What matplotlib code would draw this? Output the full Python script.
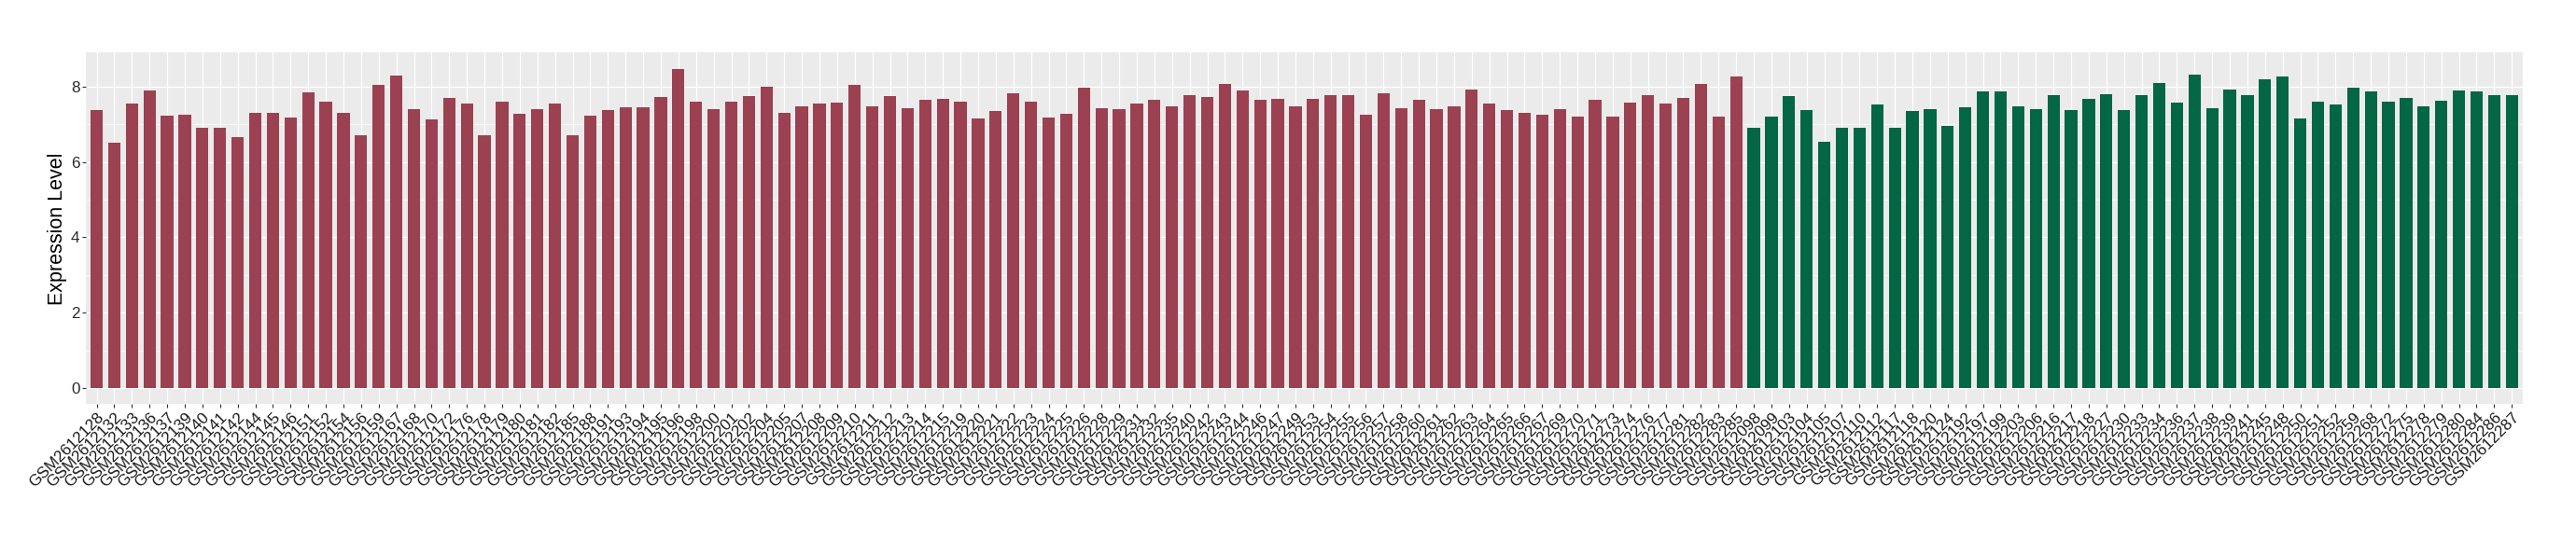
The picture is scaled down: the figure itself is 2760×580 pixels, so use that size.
import matplotlib.pyplot as plt
import numpy as np

# samples of the first group (red) and their expression values
group1_samples = [
    "GSM2612128", "GSM2612132", "GSM2612133", "GSM2612136", "GSM2612137", "GSM2612139",
    "GSM2612140", "GSM2612141", "GSM2612142", "GSM2612144", "GSM2612145", "GSM2612146",
    "GSM2612151", "GSM2612152", "GSM2612154", "GSM2612156", "GSM2612159", "GSM2612167",
    "GSM2612168", "GSM2612170", "GSM2612172", "GSM2612176", "GSM2612178", "GSM2612179",
    "GSM2612180", "GSM2612181", "GSM2612182", "GSM2612185", "GSM2612188", "GSM2612191",
    "GSM2612193", "GSM2612194", "GSM2612195", "GSM2612196", "GSM2612198", "GSM2612200",
    "GSM2612201", "GSM2612202", "GSM2612204", "GSM2612205", "GSM2612207", "GSM2612208",
    "GSM2612209", "GSM2612210", "GSM2612211", "GSM2612212", "GSM2612213", "GSM2612214",
    "GSM2612215", "GSM2612219", "GSM2612220", "GSM2612221", "GSM2612222", "GSM2612223",
    "GSM2612224", "GSM2612225", "GSM2612226", "GSM2612228", "GSM2612229", "GSM2612231",
    "GSM2612232", "GSM2612235", "GSM2612240", "GSM2612242", "GSM2612243", "GSM2612244",
    "GSM2612246", "GSM2612247", "GSM2612249", "GSM2612253", "GSM2612254", "GSM2612255",
    "GSM2612256", "GSM2612257", "GSM2612258", "GSM2612260", "GSM2612261", "GSM2612262",
    "GSM2612263", "GSM2612264", "GSM2612265", "GSM2612266", "GSM2612267", "GSM2612269",
    "GSM2612270", "GSM2612271", "GSM2612273", "GSM2612274", "GSM2612276", "GSM2612277",
    "GSM2612281", "GSM2612282", "GSM2612283", "GSM2612285",
]
group1_values = [
    7.38, 6.52, 7.55, 7.91, 7.23, 7.25, 6.90, 6.92, 6.65, 7.30, 7.30, 7.18,
    7.86, 7.61, 7.30, 6.70, 8.06, 8.29, 7.40, 7.13, 7.71, 7.55, 6.72, 7.61,
    7.28, 7.40, 7.55, 6.72, 7.23, 7.38, 7.45, 7.45, 7.73, 8.48, 7.61, 7.40,
    7.61, 7.76, 8.01, 7.30, 7.48, 7.55, 7.58, 8.06, 7.48, 7.76, 7.43, 7.66,
    7.68, 7.61, 7.15, 7.35, 7.83, 7.61, 7.18, 7.28, 7.98, 7.43, 7.40, 7.55,
    7.66, 7.48, 7.78, 7.73, 8.08, 7.91, 7.66, 7.68, 7.48, 7.68, 7.78, 7.78,
    7.25, 7.83, 7.43, 7.66, 7.40, 7.48, 7.93, 7.55, 7.38, 7.30, 7.25, 7.40,
    7.20, 7.66, 7.20, 7.58, 7.78, 7.55, 7.71, 8.08, 7.20, 8.26,
]

# samples of the second group (green)
group2_samples = [
    "GSM2612098", "GSM2612099", "GSM2612103", "GSM2612104", "GSM2612105", "GSM2612107",
    "GSM2612110", "GSM2612112", "GSM2612117", "GSM2612118", "GSM2612120", "GSM2612124",
    "GSM2612192", "GSM2612197", "GSM2612199", "GSM2612203", "GSM2612206", "GSM2612216",
    "GSM2612217", "GSM2612218", "GSM2612227", "GSM2612230", "GSM2612233", "GSM2612234",
    "GSM2612236", "GSM2612237", "GSM2612238", "GSM2612239", "GSM2612241", "GSM2612245",
    "GSM2612248", "GSM2612250", "GSM2612251", "GSM2612252", "GSM2612259", "GSM2612268",
    "GSM2612272", "GSM2612275", "GSM2612278", "GSM2612279", "GSM2612280", "GSM2612284",
    "GSM2612286", "GSM2612287",
]
group2_values = [
    6.92, 7.20, 7.76, 7.38, 6.55, 6.90, 6.92, 7.53, 6.92, 7.35, 7.40, 6.97,
    7.45, 7.88, 7.88, 7.48, 7.41, 7.78, 7.37, 7.68, 7.80, 7.37, 7.78, 8.11,
    7.57, 8.32, 7.42, 7.93, 7.78, 8.21, 8.26, 7.16, 7.60, 7.52, 7.98, 7.88,
    7.60, 7.70, 7.47, 7.62, 7.91, 7.88, 7.78, 7.78,
]

group_colors = ["#9B4151", "#036644"]

plt.rcParams['font.family'] = ['Liberation Sans', 'DejaVu Sans']

labels = group1_samples + group2_samples
values = group1_values + group2_values
colors = [group_colors[0]] * len(group1_values) + [group_colors[1]] * len(group2_values)
x = np.arange(len(values))

fig = plt.figure(figsize=(27.6, 5.8), dpi=100)
ax = fig.add_axes([0.0334, 0.2534, 0.9458, 0.6492])
ax.set_facecolor('#EBEBEB')
ax.set_axisbelow(True)

ax.bar(x, values, width=0.7, color=colors, zorder=2)

# ggplot-like expansion
ymax = max(values)
ax.set_ylim(-0.05 * ymax, 1.05 * ymax)
ax.set_xlim(-0.6, len(values) - 0.4)

ax.set_yticks([0, 2, 4, 6, 8])
ax.set_yticks([1, 3, 5, 7], minor=True)
ax.grid(which='major', color='white', linewidth=0.9)
ax.grid(which='minor', axis='y', color='white', linewidth=0.45)
for s in ax.spines.values():
    s.set_visible(False)

ax.set_xticks(x)
ax.set_xticklabels(labels, rotation=45, ha='right', va='top',
                   rotation_mode='anchor', fontsize=12.3, color='#1A1A1A')
ax.tick_params(axis='both', which='major', length=2.75, width=0.8,
               color='#333333', pad=2)
ax.tick_params(axis='y', which='major', labelsize=12.3, labelcolor='#2B2B2B')
ax.tick_params(axis='y', which='minor', length=0)

ax.set_ylabel('Expression Level', fontsize=15.5, labelpad=3)

fig.savefig('out.png', dpi=100)
